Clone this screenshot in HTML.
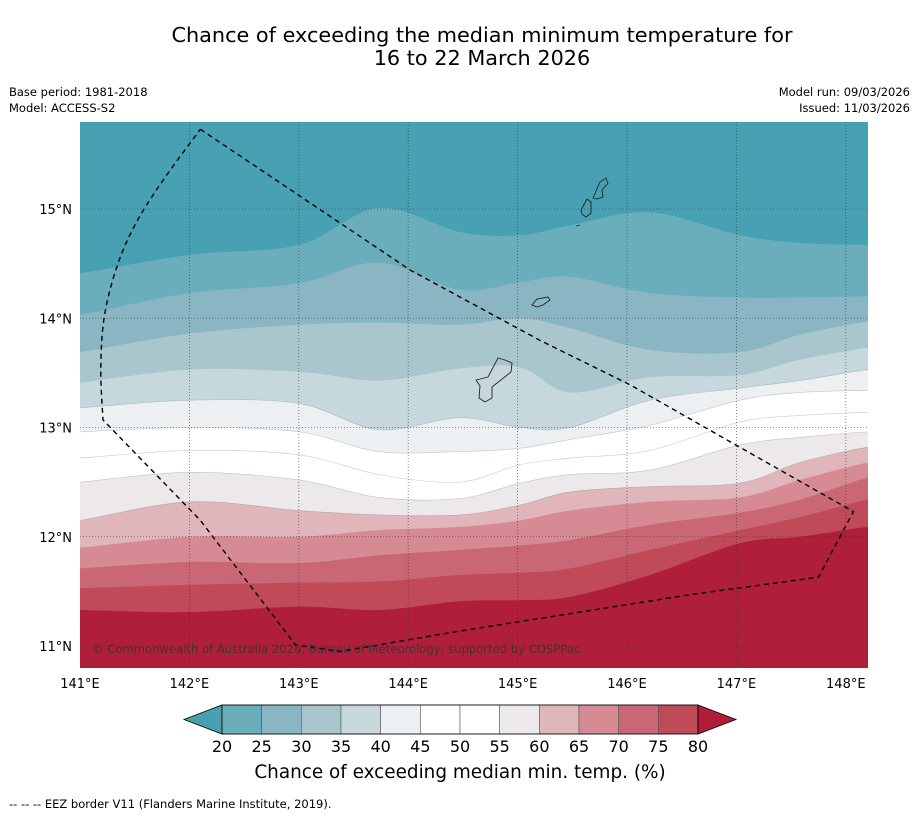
<!DOCTYPE html>
<html><head><meta charset="utf-8">
<style>
body{margin:0;background:#fff;font-family:"Liberation Sans","DejaVu Sans",sans-serif;}
svg text{font-family:"DejaVu Sans","Liberation Sans",sans-serif;}
</style></head>
<body>
<svg width="919" height="816" viewBox="0 0 919 816" xmlns="http://www.w3.org/2000/svg">
<text x="482" y="42" text-anchor="middle" font-size="20.8">Chance of exceeding the median minimum temperature for</text>
<text x="482" y="65" text-anchor="middle" font-size="20.8">16 to 22 March 2026</text>
<text x="9" y="96" font-size="11.5">Base period: 1981-2018</text>
<text x="9" y="112" font-size="11.5">Model: ACCESS-S2</text>
<text x="910" y="96" font-size="11.5" text-anchor="end">Model run: 09/03/2026</text>
<text x="910" y="112" font-size="11.5" text-anchor="end">Issued: 11/03/2026</text>
<defs><clipPath id="mapclip"><rect x="80" y="122" width="788" height="546"/></clipPath></defs>
<g id="map" clip-path="url(#mapclip)"></g>
<g id="axes"></g>
<g id="cbar"></g>
<text x="460" y="778" text-anchor="middle" font-size="18.4">Chance of exceeding median min. temp. (%)</text>
<text x="9" y="808" font-size="11.5">--  --  -- EEZ border V11 (Flanders Marine Institute, 2019).</text>
</svg>
<script>
const NS="http://www.w3.org/2000/svg";
const lons=[141.0,142.0,143.0,143.73,144.47,145.02,145.48,146.21,147.03,147.58,148.2];
const levels=[20,25,30,35,40,45,50,55,60,65,70,75,80];
const b20=[14.41,14.58,14.67,15.01,14.79,14.76,14.85,14.97,14.76,14.69,14.67];
const b25=[14.03,14.23,14.32,14.51,14.26,14.33,14.38,14.23,14.19,14.19,14.20];
const b30=[13.69,13.86,13.94,13.96,13.94,14.00,13.91,13.71,13.69,13.85,13.97];
const b35=[13.41,13.53,13.51,13.43,13.54,13.55,13.32,13.46,13.48,13.62,13.73];
const b40=[13.18,13.25,13.22,12.98,13.09,13.00,13.00,13.25,13.36,13.43,13.53];
const b45=[12.96,13.00,12.96,12.78,12.78,12.81,12.89,13.02,13.25,13.32,13.34];
const b50=[12.72,12.79,12.75,12.57,12.50,12.66,12.72,12.79,13.05,13.11,13.14];
const b55=[12.50,12.59,12.52,12.36,12.35,12.49,12.57,12.61,12.84,12.91,12.96];
const b60=[12.15,12.32,12.24,12.20,12.20,12.29,12.41,12.46,12.49,12.68,12.82];
const b65=[11.90,12.00,12.00,12.06,12.09,12.15,12.24,12.32,12.36,12.52,12.68];
const b70=[11.71,11.77,11.76,11.83,11.88,11.92,11.97,12.11,12.22,12.34,12.54];
const b75=[11.53,11.56,11.58,11.59,11.65,11.67,11.71,11.88,12.06,12.18,12.34];
const b80=[11.33,11.31,11.36,11.33,11.41,11.42,11.45,11.65,11.94,12.00,12.09];
const eezLon=[142.10,144.02,145.20,146.03,147.03,148.07,147.75,146.58,144.43,143.38,142.97,142.10,141.21];
const eezLat=[15.73,14.44,13.80,13.39,12.82,12.23,11.63,11.47,11.13,10.95,11.01,12.15,13.07];
const eezArcLon=[141.21,141.19,141.22,141.33,141.50,141.75,142.10];
const eezArcLat=[13.07,13.53,14.00,14.45,14.85,15.25,15.73];
const lonTicks=[141,142,143,144,145,146,147,148];
const latTicks=[11,12,13,14,15];
const bounds=[b20,b25,b30,b35,b40,b45,b50,b55,b60,b65,b70,b75,b80];
const colors=["#48a1b3","#6aaebb","#89b6c2","#a8c6cc","#c7d8dc","#ecf0f2","#ffffff","#ffffff","#ede8e9","#e0b6ba","#d68b94","#c96874","#c04a58","#b01f3a"];
const X=lon=>80+(lon-141)*109.4;
const Y=lat=>209-(lat-15)*109.25;
function smooth(pts){let d="";for(let i=0;i<pts.length-1;i++){const p0=pts[Math.max(i-1,0)],p1=pts[i],p2=pts[i+1],p3=pts[Math.min(i+2,pts.length-1)];
const c1=[p1[0]+(p2[0]-p0[0])/6,p1[1]+(p2[1]-p0[1])/6],c2=[p2[0]-(p3[0]-p1[0])/6,p2[1]-(p3[1]-p1[1])/6];
d+=` C${c1[0]},${c1[1]} ${c2[0]},${c2[1]} ${p2[0]},${p2[1]}`;}return d;}
const map=document.getElementById('map');
function mk(tag,attrs,parent){const e=document.createElementNS(NS,tag);for(const k in attrs)e.setAttribute(k,attrs[k]);parent.appendChild(e);return e;}
const bg=mk('rect',{x:80,y:122,width:788,height:546,fill:colors[0]},map);


bounds.forEach((b,k)=>{
  const pts=b.map((lat,i)=>[X(lons[i]),Y(lat)]);
  pts.unshift([60,pts[0][1]]);pts.push([890,pts[pts.length-1][1]]);
  const d="M"+pts[0][0]+","+pts[0][1]+smooth(pts)+" L890,700 L60,700 Z";
  const p=mk('path',{d:d,fill:colors[k+1]},map);
  
  
  if(k>=4&&k<=8){const l=mk('path',{d:"M"+pts[0][0]+","+pts[0][1]+smooth(pts),fill:"none",stroke:"rgba(90,110,110,0.35)","stroke-width":0.6},map);
  
  }
});
lonTicks.forEach(l=>{if(l>141){const g=mk('line',{x1:X(l),x2:X(l),y1:122,y2:668,stroke:"#333","stroke-width":0.8,"stroke-dasharray":"1,2",opacity:0.7},map);

}});
latTicks.forEach(l=>{const g=mk('line',{x1:80,x2:868,y1:Y(l),y2:Y(l),stroke:"#333","stroke-width":0.8,"stroke-dasharray":"1,2",opacity:0.7},map);

});
const isl=["M476,380 L488,377 L498,358 L505,360 L512,363 L511,372 L492,387 L492,398 L485,402 L479,398 L480,386 Z",
"M532,305 L537,299 L548,297 L550,300 L543,305 L537,307 Z",
"M593,198 L600,182 L606,178 L608,183 L602,190 L603,197 L597,199 Z",
"M581,210 L587,199 L591,202 L591,213 L586,217 L582,214 Z",
"M576,226 L580,225"];
isl.forEach(d=>{const p=mk('path',{d:d,fill:"none",stroke:"#222","stroke-width":0.9},map);

});
let ed="";eezLon.forEach((lo,i)=>{ed+=(i?"L":"M")+X(lo)+","+Y(eezLat[i])+" ";});
const arc=eezArcLon.map((lo,i)=>[X(lo),Y(eezArcLat[i])]);
ed+=smooth(arc);
const eez=mk('path',{d:ed,fill:"none",stroke:"#000","stroke-width":1.4,"stroke-dasharray":"5,4"},map);


const cp=mk('text',{x:92,y:653,"font-size":11.6,fill:"#333",opacity:0.85},map);
cp.textContent="© Commonwealth of Australia 2026, Bureau of Meteorology, supported by COSPPac";


const ax=document.getElementById('axes');
lonTicks.forEach(l=>{const t=mk('text',{x:X(l),y:688,"font-size":13,"text-anchor":"middle"},ax);t.textContent=l+"°E";

});
latTicks.forEach(l=>{const t=mk('text',{x:72,y:Y(l)+5,"font-size":13,"text-anchor":"end"},ax);t.textContent=l+"°N";

});
const cb=document.getElementById('cbar');
const cx=v=>222+(v-20)*(476/60);
const t1=mk('polygon',{points:`184,719.5 222,705 222,734`,fill:colors[0],stroke:"#000","stroke-width":0.8},cb);


levels.slice(0,-1).forEach((v,i)=>{const r=mk('rect',{x:cx(v),y:705,width:cx(levels[i+1])-cx(v),height:29,fill:colors[i+1],stroke:"#555","stroke-width":0.6},cb);

});
const t2=mk('polygon',{points:`698,705 736,719.5 698,734`,fill:colors[13],stroke:"#000","stroke-width":0.8},cb);


mk('rect',{x:222,y:705,width:476,height:29,fill:"none",stroke:"#000","stroke-width":0.8},cb);
levels.forEach(v=>{const t=mk('text',{x:cx(v),y:752,"font-size":16,"text-anchor":"middle"},cb);t.textContent=v;

});
</script>
</body></html>
